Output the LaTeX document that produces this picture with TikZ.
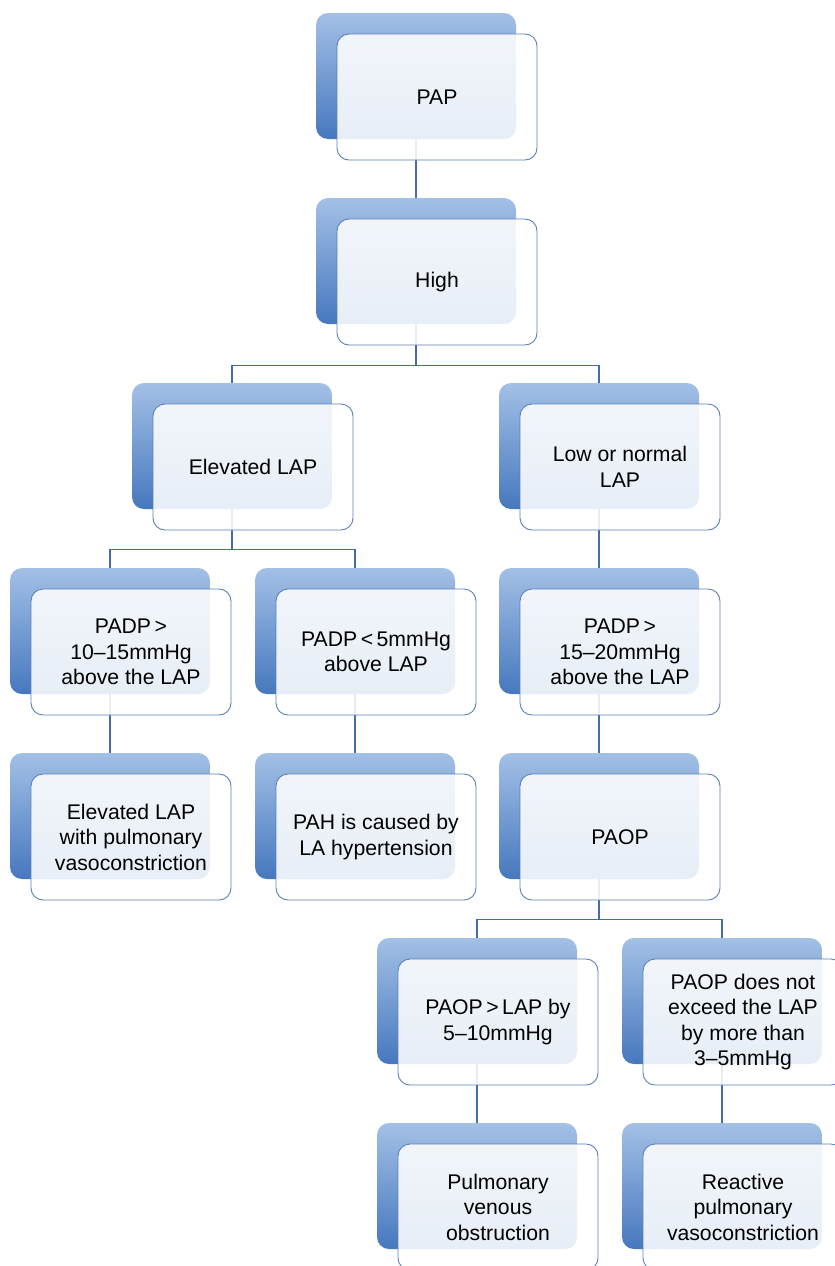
\documentclass[tikz,border=0pt]{standalone}
\usepackage{fontspec}
\setmainfont{Liberation Sans}
\definecolor{topc}{RGB}{163,192,230}
\definecolor{botc}{RGB}{70,120,190}
\definecolor{linec}{RGB}{68,108,170}
\definecolor{framec}{RGB}{92,128,186}
\pgfdeclarelayer{bk}
\pgfdeclarelayer{fr}
\pgfsetlayers{bk,main,fr}
\tikzset{
  backbox/.style={minimum width=200pt, minimum height=126pt, rounded corners=12pt,
    top color=topc, bottom color=botc, draw=none, inner sep=0pt},
  frontbox/.style={minimum width=200pt, minimum height=126pt, rounded corners=12pt,
    draw=framec, line width=0.9pt, fill=white, fill opacity=0.88, text opacity=1,
    draw opacity=1, align=center, font=\fontsize{21.2}{25.5}\selectfont, inner sep=0pt},
  conn/.style={draw=linec, line width=1.3pt}
}
\newcommand{\dbox}[4]{%
  \begin{pgfonlayer}{bk}\node[backbox] (#1-b) at (#2,#3) {};\end{pgfonlayer}%
  \begin{pgfonlayer}{fr}\node[frontbox] (#1) at ([shift={(21,21)}]#1-b.center) {#4};\end{pgfonlayer}}
\begin{document}
\begin{tikzpicture}[x=1pt,y=-1pt]
\useasboundingbox (0,0) rectangle (835,1266);
\clip (0,0) rectangle (835,1266);
\dbox{pap}{416}{76}{PAP}
\dbox{high}{416}{261}{High}
\dbox{elev}{232}{446}{Elevated LAP}
\dbox{low}{599}{446}{Low or normal\\LAP}
\dbox{padpa}{110}{631}{PADP\,>\\10–15mmHg\\above the LAP}
\dbox{padpb}{355}{631}{PADP\,<\,5mmHg\\above LAP}
\dbox{padpc}{599}{631}{PADP\,>\\15–20mmHg\\above the LAP}
\dbox{elevvaso}{110}{816}{Elevated LAP\\with pulmonary\\vasoconstriction}
\dbox{pah}{355}{816}{PAH is caused by\\LA hypertension}
\dbox{paop}{599}{816}{PAOP}
\dbox{paopa}{477}{1001}{PAOP\,>\,LAP by\\5–10mmHg}
\dbox{paopb}{722}{1001}{PAOP does not\\exceed the LAP\\by more than\\3–5mmHg}
\dbox{venous}{477}{1186}{Pulmonary\\venous\\obstruction}
\dbox{reactive}{722}{1186}{Reactive\\pulmonary\\vasoconstriction}
% connectors
\draw[conn] (pap-b.south) -- (high-b.north);
\draw[conn] (high-b.south) -- ++(0,41) -| (elev-b.north);
\draw[conn] (high-b.south) -- ++(0,41) -| (low-b.north);
\draw[conn] (elev-b.south) -- ++(0,40) -| (padpa-b.north);
\draw[conn] (elev-b.south) -- ++(0,40) -| (padpb-b.north);
\draw[conn] (low-b.south) -- (padpc-b.north);
\draw[conn] (padpa-b.south) -- (elevvaso-b.north);
\draw[conn] (padpb-b.south) -- (pah-b.north);
\draw[conn] (padpc-b.south) -- (paop-b.north);
\draw[conn] (paop-b.south) -- ++(0,40) -| (paopa-b.north);
\draw[conn] (paop-b.south) -- ++(0,40) -| (paopb-b.north);
\draw[conn] (paopa-b.south) -- (venous-b.north);
\draw[conn] (paopb-b.south) -- (reactive-b.north);
\end{tikzpicture}
\end{document}
